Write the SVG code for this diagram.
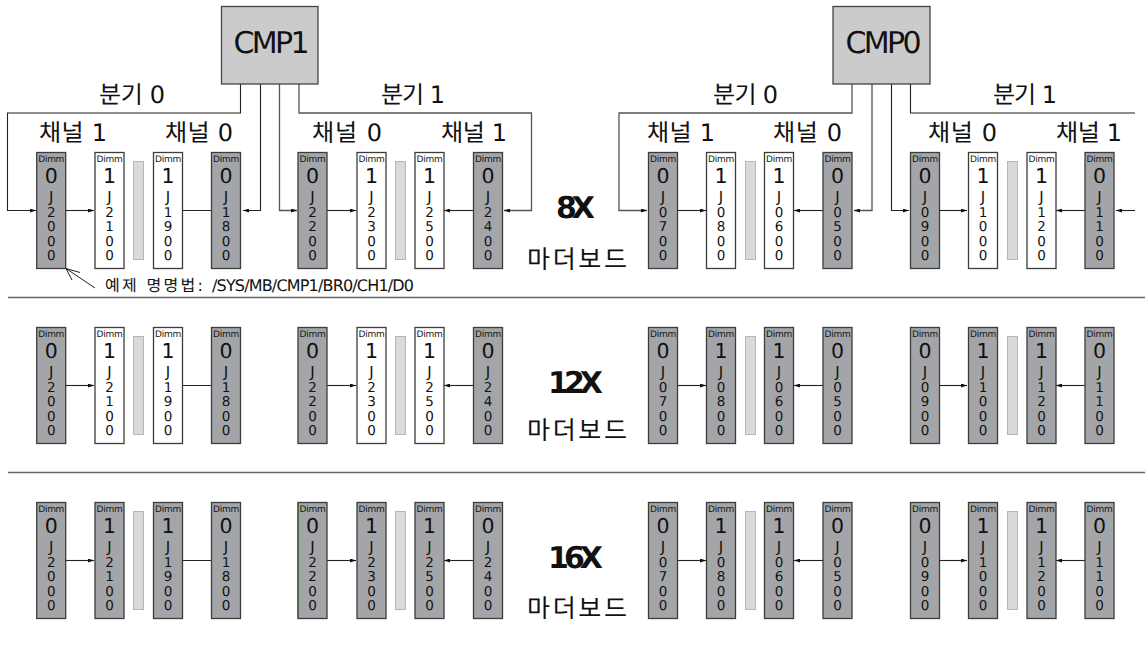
<svg xmlns="http://www.w3.org/2000/svg" width="1145" height="646" viewBox="0 0 1145 646">
<style>
text{font-family:"DejaVu Sans","Noto Sans CJK KR",sans-serif;fill:#111;text-rendering:geometricPrecision}
.d{opacity:.995}
.d text{text-anchor:middle}
.d rect{stroke:#3c3c3c;stroke-width:1.3;width:29px;height:116px}
.k rect{fill:#a3a5a8}
.w rect{fill:#fff}
.t{font-size:9px;letter-spacing:-.3px}
.n{font-size:20.500px}
.j{font-size:15px}
.c{font-size:13.500px}
.s{fill:#d8dadc;stroke:#b4b6b8;stroke-width:1;width:10px;height:98px}
.cmp{fill:#cbcbcb;stroke:#444;stroke-width:1.3}
.cmpt{font-size:30px;text-anchor:middle}
.l{font-size:24px}
.x{font-size:30px;font-weight:bold;text-anchor:middle;letter-spacing:-5px}
.m{font-size:25px}
.e{font-size:16px}
.sep{stroke:#666;stroke-width:1.3}
.w1{fill:none;stroke:#222;stroke-width:1.1}
.w2{fill:none;stroke:#555;stroke-width:1.3}
.ar{marker-end:url(#a)}
.open{fill:none;stroke:#222;stroke-width:1}
</style>
<defs>
<marker id="a" viewBox="0 0 6 4" refX="6" refY="2" markerWidth="6" markerHeight="4" markerUnits="userSpaceOnUse" orient="auto"><path d="M0 0L6 2L0 4Z" fill="#111"/></marker>
</defs>
<g id="separators">
<line class="sep" x1="8" y1="297.500" x2="1145" y2="297.500"/>
<line class="sep" x1="8" y1="472.500" x2="1145" y2="472.500"/>
</g>
<g id="connectors">
<path class="w1 ar" d="M240.500 84V113H7.500V210.500H36"/>
<path class="w1 ar" d="M260.500 84V210.500H243"/>
<path class="w2 ar" d="M279.500 84V210.500H297"/>
<path class="w2 ar" d="M299 84V113H531.500V210.500H504"/>
<path class="w2 ar" d="M852 84V113H619V210.500H647"/>
<path class="w2 ar" d="M872 84V210.500H854"/>
<path class="w1 ar" d="M891.500 84V210.500H909"/>
<path class="w1" d="M910.500 84V113H1135"/>
<path class="w1 ar" d="M1135 210.500H1116"/>
<path class="w1 ar" d="M66 210.500H94"/><path class="w1 ar" d="M211 210.500H154"/>
<path class="w1 ar" d="M327 210.500H356"/><path class="w1 ar" d="M473 210.500H444"/>
<path class="w1 ar" d="M678 210.500H706"/><path class="w1 ar" d="M823 210.500H794"/>
<path class="w1 ar" d="M939 210.500H967"/><path class="w1 ar" d="M1085 210.500H1056"/>
<path class="w1 ar" d="M66 385.500H94"/><path class="w1 ar" d="M211 385.500H154"/>
<path class="w1 ar" d="M327 385.500H356"/><path class="w1 ar" d="M473 385.500H444"/>
<path class="w1 ar" d="M678 385.500H706"/><path class="w1 ar" d="M823 385.500H794"/>
<path class="w1 ar" d="M939 385.500H967"/><path class="w1 ar" d="M1085 385.500H1056"/>
<path class="w1 ar" d="M66 560.500H94"/><path class="w1 ar" d="M211 560.500H154"/>
<path class="w1 ar" d="M327 560.500H356"/><path class="w1 ar" d="M473 560.500H444"/>
<path class="w1 ar" d="M678 560.500H706"/><path class="w1 ar" d="M823 560.500H794"/>
<path class="w1 ar" d="M939 560.500H967"/><path class="w1 ar" d="M1085 560.500H1056"/>
<path class="open" d="M95 288L66 268.500M66 268.500L80 272.500M66 268.500L72 280"/>
</g>
<g id="cmp1"><rect class="cmp" x="221.500" y="6.500" width="96.500" height="77.500"/><text class="cmpt" x="271.500" y="52.500" textLength="76">CMP1</text></g>
<g id="cmp0"><rect class="cmp" x="833" y="6.500" width="97" height="77.500"/><text class="cmpt" x="883.500" y="52.500" textLength="76">CMP0</text></g>
<g id="labels">
<text class="l" x="99" y="103" textLength="66">분기 0</text>
<text class="l" x="381" y="103" textLength="64">분기 1</text>
<text class="l" x="713" y="103" textLength="65">분기 0</text>
<text class="l" x="993" y="103" textLength="64">분기 1</text>
<text class="l" x="39" y="141" textLength="68">채널 1</text>
<text class="l" x="165" y="141" textLength="68">채널 0</text>
<text class="l" x="312" y="141" textLength="70">채널 0</text>
<text class="l" x="441" y="141" textLength="66">채널 1</text>
<text class="l" x="647" y="141" textLength="68">채널 1</text>
<text class="l" x="773" y="141" textLength="69">채널 0</text>
<text class="l" x="928" y="141" textLength="69">채널 0</text>
<text class="l" x="1056" y="141" textLength="66">채널 1</text>
<text class="x" x="573" y="218">8X</text>
<text class="x" x="573" y="393">12X</text>
<text class="x" x="573" y="568">16X</text>
<text class="m" x="527" y="268" textLength="100">마더보드</text>
<text class="m" x="527" y="439" textLength="100">마더보드</text>
<text class="m" x="527" y="617" textLength="100">마더보드</text>
<text class="e" x="105" y="291" textLength="98">예제 명명법:</text>
<text class="e" x="212" y="291" textLength="202">/SYS/MB/CMP1/BR0/CH1/D0</text>
</g>
<g id="slots">
<rect class="s" x="133.500" y="161.500"/><rect class="s" x="395.500" y="161.500"/><rect class="s" x="745.500" y="161.500"/><rect class="s" x="1007.500" y="161.500"/>
<rect class="s" x="133.500" y="336.500"/><rect class="s" x="395.500" y="336.500"/><rect class="s" x="745.500" y="336.500"/><rect class="s" x="1007.500" y="336.500"/>
<rect class="s" x="133.500" y="511.500"/><rect class="s" x="395.500" y="511.500"/><rect class="s" x="745.500" y="511.500"/><rect class="s" x="1007.500" y="511.500"/>
</g>
<g id="r1-j2000" class="d k" transform="translate(36.700 152.500)"><rect/><text class="t" x="14.500" y="9">Dimm</text><text class="n" x="14.500" y="30">0</text><text class="j" x="14.500" y="49.500">J</text><text class="c" x="14.500 14.500 14.500 14.500" y="64 78.500 93 107.500">2000</text></g>
<g id="r1-j2100" class="d w" transform="translate(95 152.500)"><rect/><text class="t" x="14.500" y="9">Dimm</text><text class="n" x="14.500" y="30">1</text><text class="j" x="14.500" y="49.500">J</text><text class="c" x="14.500 14.500 14.500 14.500" y="64 78.500 93 107.500">2100</text></g>
<g id="r1-j1900" class="d w" transform="translate(153.500 152.500)"><rect/><text class="t" x="14.500" y="9">Dimm</text><text class="n" x="14.500" y="30">1</text><text class="j" x="14.500" y="49.500">J</text><text class="c" x="14.500 14.500 14.500 14.500" y="64 78.500 93 107.500">1900</text></g>
<g id="r1-j1800" class="d k" transform="translate(211.500 152.500)"><rect/><text class="t" x="14.500" y="9">Dimm</text><text class="n" x="14.500" y="30">0</text><text class="j" x="14.500" y="49.500">J</text><text class="c" x="14.500 14.500 14.500 14.500" y="64 78.500 93 107.500">1800</text></g>
<g id="r1-j2200" class="d k" transform="translate(298 152.500)"><rect/><text class="t" x="14.500" y="9">Dimm</text><text class="n" x="14.500" y="30">0</text><text class="j" x="14.500" y="49.500">J</text><text class="c" x="14.500 14.500 14.500 14.500" y="64 78.500 93 107.500">2200</text></g>
<g id="r1-j2300" class="d w" transform="translate(357 152.500)"><rect/><text class="t" x="14.500" y="9">Dimm</text><text class="n" x="14.500" y="30">1</text><text class="j" x="14.500" y="49.500">J</text><text class="c" x="14.500 14.500 14.500 14.500" y="64 78.500 93 107.500">2300</text></g>
<g id="r1-j2500" class="d w" transform="translate(415 152.500)"><rect/><text class="t" x="14.500" y="9">Dimm</text><text class="n" x="14.500" y="30">1</text><text class="j" x="14.500" y="49.500">J</text><text class="c" x="14.500 14.500 14.500 14.500" y="64 78.500 93 107.500">2500</text></g>
<g id="r1-j2400" class="d k" transform="translate(473.500 152.500)"><rect/><text class="t" x="14.500" y="9">Dimm</text><text class="n" x="14.500" y="30">0</text><text class="j" x="14.500" y="49.500">J</text><text class="c" x="14.500 14.500 14.500 14.500" y="64 78.500 93 107.500">2400</text></g>
<g id="r1-j0700" class="d k" transform="translate(648.500 152.500)"><rect/><text class="t" x="14.500" y="9">Dimm</text><text class="n" x="14.500" y="30">0</text><text class="j" x="14.500" y="49.500">J</text><text class="c" x="14.500 14.500 14.500 14.500" y="64 78.500 93 107.500">0700</text></g>
<g id="r1-j0800" class="d w" transform="translate(706.500 152.500)"><rect/><text class="t" x="14.500" y="9">Dimm</text><text class="n" x="14.500" y="30">1</text><text class="j" x="14.500" y="49.500">J</text><text class="c" x="14.500 14.500 14.500 14.500" y="64 78.500 93 107.500">0800</text></g>
<g id="r1-j0600" class="d w" transform="translate(764.500 152.500)"><rect/><text class="t" x="14.500" y="9">Dimm</text><text class="n" x="14.500" y="30">1</text><text class="j" x="14.500" y="49.500">J</text><text class="c" x="14.500 14.500 14.500 14.500" y="64 78.500 93 107.500">0600</text></g>
<g id="r1-j0500" class="d k" transform="translate(823 152.500)"><rect/><text class="t" x="14.500" y="9">Dimm</text><text class="n" x="14.500" y="30">0</text><text class="j" x="14.500" y="49.500">J</text><text class="c" x="14.500 14.500 14.500 14.500" y="64 78.500 93 107.500">0500</text></g>
<g id="r1-j0900" class="d k" transform="translate(910.500 152.500)"><rect/><text class="t" x="14.500" y="9">Dimm</text><text class="n" x="14.500" y="30">0</text><text class="j" x="14.500" y="49.500">J</text><text class="c" x="14.500 14.500 14.500 14.500" y="64 78.500 93 107.500">0900</text></g>
<g id="r1-j1000" class="d w" transform="translate(968.500 152.500)"><rect/><text class="t" x="14.500" y="9">Dimm</text><text class="n" x="14.500" y="30">1</text><text class="j" x="14.500" y="49.500">J</text><text class="c" x="14.500 14.500 14.500 14.500" y="64 78.500 93 107.500">1000</text></g>
<g id="r1-j1200" class="d w" transform="translate(1027 152.500)"><rect/><text class="t" x="14.500" y="9">Dimm</text><text class="n" x="14.500" y="30">1</text><text class="j" x="14.500" y="49.500">J</text><text class="c" x="14.500 14.500 14.500 14.500" y="64 78.500 93 107.500">1200</text></g>
<g id="r1-j1100" class="d k" transform="translate(1085 152.500)"><rect/><text class="t" x="14.500" y="9">Dimm</text><text class="n" x="14.500" y="30">0</text><text class="j" x="14.500" y="49.500">J</text><text class="c" x="14.500 14.500 14.500 14.500" y="64 78.500 93 107.500">1100</text></g>
<g id="r2-j2000" class="d k" transform="translate(36.700 327.500)"><rect/><text class="t" x="14.500" y="9">Dimm</text><text class="n" x="14.500" y="30">0</text><text class="j" x="14.500" y="49.500">J</text><text class="c" x="14.500 14.500 14.500 14.500" y="64 78.500 93 107.500">2000</text></g>
<g id="r2-j2100" class="d w" transform="translate(95 327.500)"><rect/><text class="t" x="14.500" y="9">Dimm</text><text class="n" x="14.500" y="30">1</text><text class="j" x="14.500" y="49.500">J</text><text class="c" x="14.500 14.500 14.500 14.500" y="64 78.500 93 107.500">2100</text></g>
<g id="r2-j1900" class="d w" transform="translate(153.500 327.500)"><rect/><text class="t" x="14.500" y="9">Dimm</text><text class="n" x="14.500" y="30">1</text><text class="j" x="14.500" y="49.500">J</text><text class="c" x="14.500 14.500 14.500 14.500" y="64 78.500 93 107.500">1900</text></g>
<g id="r2-j1800" class="d k" transform="translate(211.500 327.500)"><rect/><text class="t" x="14.500" y="9">Dimm</text><text class="n" x="14.500" y="30">0</text><text class="j" x="14.500" y="49.500">J</text><text class="c" x="14.500 14.500 14.500 14.500" y="64 78.500 93 107.500">1800</text></g>
<g id="r2-j2200" class="d k" transform="translate(298 327.500)"><rect/><text class="t" x="14.500" y="9">Dimm</text><text class="n" x="14.500" y="30">0</text><text class="j" x="14.500" y="49.500">J</text><text class="c" x="14.500 14.500 14.500 14.500" y="64 78.500 93 107.500">2200</text></g>
<g id="r2-j2300" class="d w" transform="translate(357 327.500)"><rect/><text class="t" x="14.500" y="9">Dimm</text><text class="n" x="14.500" y="30">1</text><text class="j" x="14.500" y="49.500">J</text><text class="c" x="14.500 14.500 14.500 14.500" y="64 78.500 93 107.500">2300</text></g>
<g id="r2-j2500" class="d w" transform="translate(415 327.500)"><rect/><text class="t" x="14.500" y="9">Dimm</text><text class="n" x="14.500" y="30">1</text><text class="j" x="14.500" y="49.500">J</text><text class="c" x="14.500 14.500 14.500 14.500" y="64 78.500 93 107.500">2500</text></g>
<g id="r2-j2400" class="d k" transform="translate(473.500 327.500)"><rect/><text class="t" x="14.500" y="9">Dimm</text><text class="n" x="14.500" y="30">0</text><text class="j" x="14.500" y="49.500">J</text><text class="c" x="14.500 14.500 14.500 14.500" y="64 78.500 93 107.500">2400</text></g>
<g id="r2-j0700" class="d k" transform="translate(648.500 327.500)"><rect/><text class="t" x="14.500" y="9">Dimm</text><text class="n" x="14.500" y="30">0</text><text class="j" x="14.500" y="49.500">J</text><text class="c" x="14.500 14.500 14.500 14.500" y="64 78.500 93 107.500">0700</text></g>
<g id="r2-j0800" class="d k" transform="translate(706.500 327.500)"><rect/><text class="t" x="14.500" y="9">Dimm</text><text class="n" x="14.500" y="30">1</text><text class="j" x="14.500" y="49.500">J</text><text class="c" x="14.500 14.500 14.500 14.500" y="64 78.500 93 107.500">0800</text></g>
<g id="r2-j0600" class="d k" transform="translate(764.500 327.500)"><rect/><text class="t" x="14.500" y="9">Dimm</text><text class="n" x="14.500" y="30">1</text><text class="j" x="14.500" y="49.500">J</text><text class="c" x="14.500 14.500 14.500 14.500" y="64 78.500 93 107.500">0600</text></g>
<g id="r2-j0500" class="d k" transform="translate(823 327.500)"><rect/><text class="t" x="14.500" y="9">Dimm</text><text class="n" x="14.500" y="30">0</text><text class="j" x="14.500" y="49.500">J</text><text class="c" x="14.500 14.500 14.500 14.500" y="64 78.500 93 107.500">0500</text></g>
<g id="r2-j0900" class="d k" transform="translate(910.500 327.500)"><rect/><text class="t" x="14.500" y="9">Dimm</text><text class="n" x="14.500" y="30">0</text><text class="j" x="14.500" y="49.500">J</text><text class="c" x="14.500 14.500 14.500 14.500" y="64 78.500 93 107.500">0900</text></g>
<g id="r2-j1000" class="d k" transform="translate(968.500 327.500)"><rect/><text class="t" x="14.500" y="9">Dimm</text><text class="n" x="14.500" y="30">1</text><text class="j" x="14.500" y="49.500">J</text><text class="c" x="14.500 14.500 14.500 14.500" y="64 78.500 93 107.500">1000</text></g>
<g id="r2-j1200" class="d k" transform="translate(1027 327.500)"><rect/><text class="t" x="14.500" y="9">Dimm</text><text class="n" x="14.500" y="30">1</text><text class="j" x="14.500" y="49.500">J</text><text class="c" x="14.500 14.500 14.500 14.500" y="64 78.500 93 107.500">1200</text></g>
<g id="r2-j1100" class="d k" transform="translate(1085 327.500)"><rect/><text class="t" x="14.500" y="9">Dimm</text><text class="n" x="14.500" y="30">0</text><text class="j" x="14.500" y="49.500">J</text><text class="c" x="14.500 14.500 14.500 14.500" y="64 78.500 93 107.500">1100</text></g>
<g id="r3-j2000" class="d k" transform="translate(36.700 502.500)"><rect/><text class="t" x="14.500" y="9">Dimm</text><text class="n" x="14.500" y="30">0</text><text class="j" x="14.500" y="49.500">J</text><text class="c" x="14.500 14.500 14.500 14.500" y="64 78.500 93 107.500">2000</text></g>
<g id="r3-j2100" class="d k" transform="translate(95 502.500)"><rect/><text class="t" x="14.500" y="9">Dimm</text><text class="n" x="14.500" y="30">1</text><text class="j" x="14.500" y="49.500">J</text><text class="c" x="14.500 14.500 14.500 14.500" y="64 78.500 93 107.500">2100</text></g>
<g id="r3-j1900" class="d k" transform="translate(153.500 502.500)"><rect/><text class="t" x="14.500" y="9">Dimm</text><text class="n" x="14.500" y="30">1</text><text class="j" x="14.500" y="49.500">J</text><text class="c" x="14.500 14.500 14.500 14.500" y="64 78.500 93 107.500">1900</text></g>
<g id="r3-j1800" class="d k" transform="translate(211.500 502.500)"><rect/><text class="t" x="14.500" y="9">Dimm</text><text class="n" x="14.500" y="30">0</text><text class="j" x="14.500" y="49.500">J</text><text class="c" x="14.500 14.500 14.500 14.500" y="64 78.500 93 107.500">1800</text></g>
<g id="r3-j2200" class="d k" transform="translate(298 502.500)"><rect/><line x1="0" y1="0" x2="0" y2="116" stroke="#3f6b2f" stroke-width="1.300"/><text class="t" x="14.500" y="9">Dimm</text><text class="n" x="14.500" y="30">0</text><text class="j" x="14.500" y="49.500">J</text><text class="c" x="14.500 14.500 14.500 14.500" y="64 78.500 93 107.500">2200</text></g>
<g id="r3-j2300" class="d k" transform="translate(357 502.500)"><rect/><text class="t" x="14.500" y="9">Dimm</text><text class="n" x="14.500" y="30">1</text><text class="j" x="14.500" y="49.500">J</text><text class="c" x="14.500 14.500 14.500 14.500" y="64 78.500 93 107.500">2300</text></g>
<g id="r3-j2500" class="d k" transform="translate(415 502.500)"><rect/><text class="t" x="14.500" y="9">Dimm</text><text class="n" x="14.500" y="30">1</text><text class="j" x="14.500" y="49.500">J</text><text class="c" x="14.500 14.500 14.500 14.500" y="64 78.500 93 107.500">2500</text></g>
<g id="r3-j2400" class="d k" transform="translate(473.500 502.500)"><rect/><text class="t" x="14.500" y="9">Dimm</text><text class="n" x="14.500" y="30">0</text><text class="j" x="14.500" y="49.500">J</text><text class="c" x="14.500 14.500 14.500 14.500" y="64 78.500 93 107.500">2400</text></g>
<g id="r3-j0700" class="d k" transform="translate(648.500 502.500)"><rect/><text class="t" x="14.500" y="9">Dimm</text><text class="n" x="14.500" y="30">0</text><text class="j" x="14.500" y="49.500">J</text><text class="c" x="14.500 14.500 14.500 14.500" y="64 78.500 93 107.500">0700</text></g>
<g id="r3-j0800" class="d k" transform="translate(706.500 502.500)"><rect/><text class="t" x="14.500" y="9">Dimm</text><text class="n" x="14.500" y="30">1</text><text class="j" x="14.500" y="49.500">J</text><text class="c" x="14.500 14.500 14.500 14.500" y="64 78.500 93 107.500">0800</text></g>
<g id="r3-j0600" class="d k" transform="translate(764.500 502.500)"><rect/><text class="t" x="14.500" y="9">Dimm</text><text class="n" x="14.500" y="30">1</text><text class="j" x="14.500" y="49.500">J</text><text class="c" x="14.500 14.500 14.500 14.500" y="64 78.500 93 107.500">0600</text></g>
<g id="r3-j0500" class="d k" transform="translate(823 502.500)"><rect/><text class="t" x="14.500" y="9">Dimm</text><text class="n" x="14.500" y="30">0</text><text class="j" x="14.500" y="49.500">J</text><text class="c" x="14.500 14.500 14.500 14.500" y="64 78.500 93 107.500">0500</text></g>
<g id="r3-j0900" class="d k" transform="translate(910.500 502.500)"><rect/><text class="t" x="14.500" y="9">Dimm</text><text class="n" x="14.500" y="30">0</text><text class="j" x="14.500" y="49.500">J</text><text class="c" x="14.500 14.500 14.500 14.500" y="64 78.500 93 107.500">0900</text></g>
<g id="r3-j1000" class="d k" transform="translate(968.500 502.500)"><rect/><text class="t" x="14.500" y="9">Dimm</text><text class="n" x="14.500" y="30">1</text><text class="j" x="14.500" y="49.500">J</text><text class="c" x="14.500 14.500 14.500 14.500" y="64 78.500 93 107.500">1000</text></g>
<g id="r3-j1200" class="d k" transform="translate(1027 502.500)"><rect/><text class="t" x="14.500" y="9">Dimm</text><text class="n" x="14.500" y="30">1</text><text class="j" x="14.500" y="49.500">J</text><text class="c" x="14.500 14.500 14.500 14.500" y="64 78.500 93 107.500">1200</text></g>
<g id="r3-j1100" class="d k" transform="translate(1085 502.500)"><rect/><text class="t" x="14.500" y="9">Dimm</text><text class="n" x="14.500" y="30">0</text><text class="j" x="14.500" y="49.500">J</text><text class="c" x="14.500 14.500 14.500 14.500" y="64 78.500 93 107.500">1100</text></g>
</svg>
